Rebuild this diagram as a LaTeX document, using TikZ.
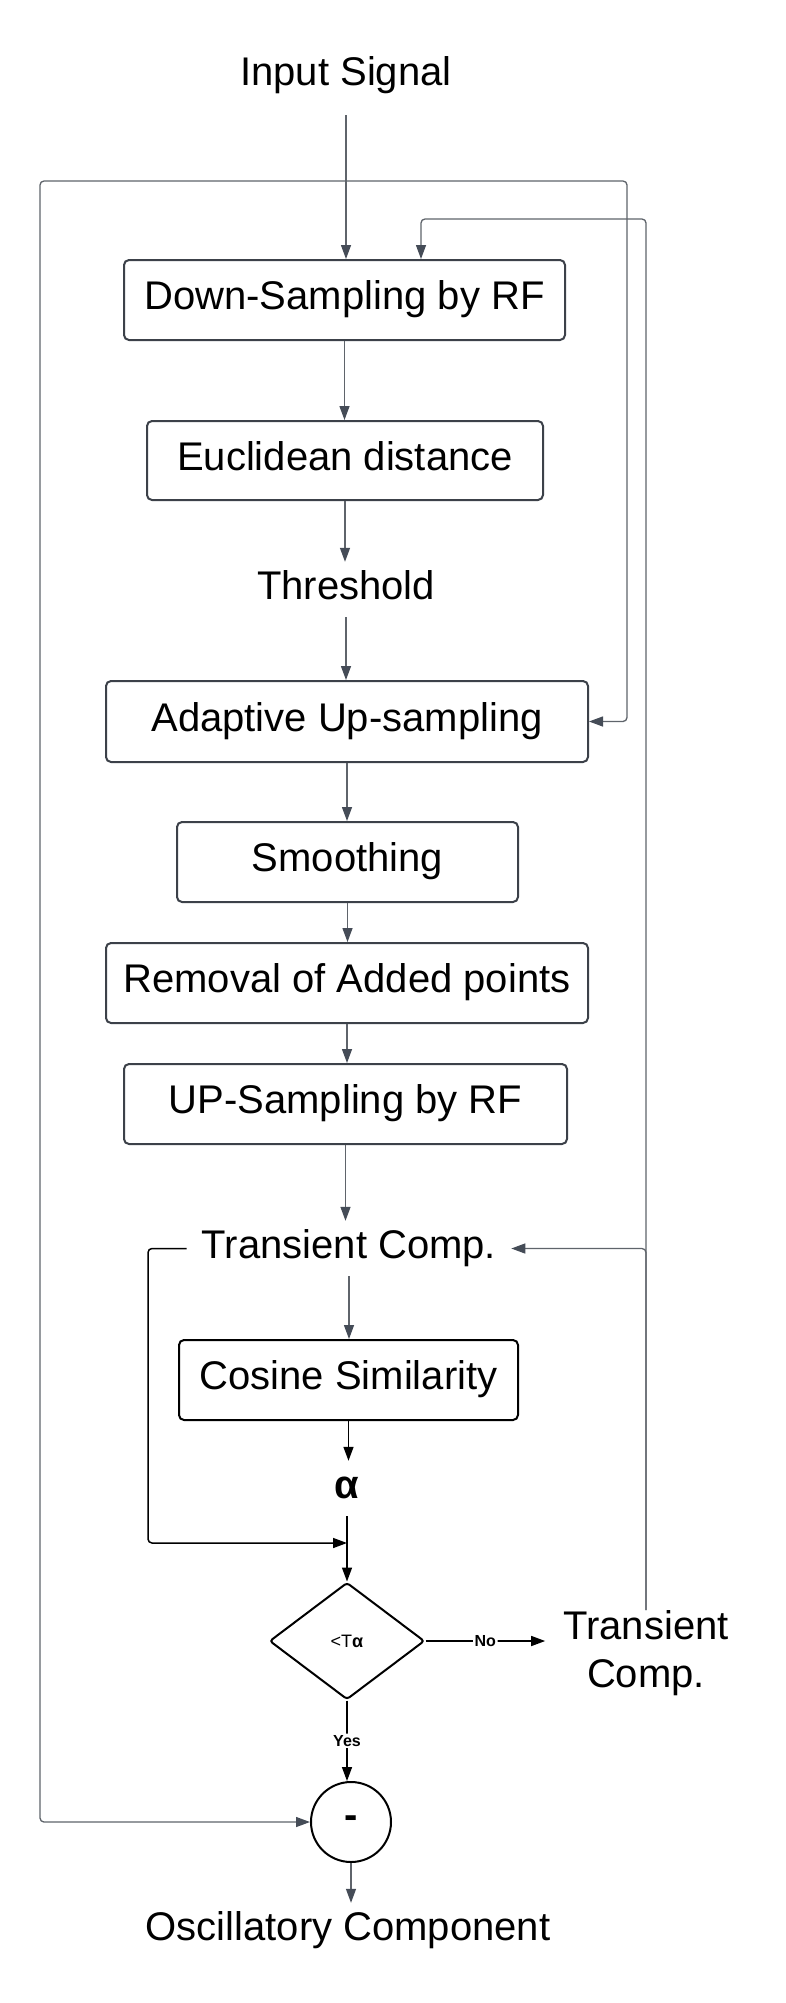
\documentclass[tikz,border=0pt]{standalone}
\usepackage{fontspec}
\setmainfont{Liberation Sans}
\usetikzlibrary{arrows.meta,shapes.geometric}
\definecolor{boxc}{HTML}{3C4149}
\definecolor{linec}{HTML}{5F646B}
\definecolor{tipc}{HTML}{454C57}
\tikzset{
  box/.style={draw=boxc, line width=2pt, rounded corners=5pt, fill=white,
    font=\fontsize{40}{48}\selectfont, text height=29pt, text depth=10pt, inner sep=0pt},
  lbl/.style={font=\fontsize{40}{48}\selectfont, text height=29pt, text depth=10pt,
    inner ysep=8pt, inner xsep=15pt},
  conn/.style={draw=linec, line width=1.3pt, rounded corners=4pt},
  arr/.style={conn, -{Triangle[length=14pt,width=10pt,color=tipc]}},
  bconn/.style={draw=black, line width=1.5pt, rounded corners=4pt},
  barr/.style={bconn, -{Triangle[length=14pt,width=10pt,color=black]}},
  edgelbl/.style={fill=white, font=\fontsize{16}{18}\selectfont\bfseries, inner sep=1.5pt}
}
\begin{document}
\begin{tikzpicture}[x=1pt,y=-1pt]
\fill[white] (0,0) rectangle (786,2003);
\useasboundingbox (0,0) rectangle (786,2003);

% nodes
\node[lbl, anchor=base] (input) at (346,85) {Input Signal};
\node[box, minimum width=441pt, minimum height=80pt] (down) at (344.5,300) {Down-Sampling by RF};
\node[box, minimum width=396pt, minimum height=79pt] (euc) at (345,460.5) {Euclidean distance};
\node[lbl, anchor=base] (thr) at (346,599) {Threshold};
\node[box, minimum width=482pt, minimum height=81pt] (adapt) at (347,721.5) {Adaptive Up-sampling};
\node[box, minimum width=341pt, minimum height=80pt] (smooth) at (347.5,862) {Smoothing};
\node[box, minimum width=482pt, minimum height=80pt] (rem) at (347,983) {Removal of Added points};
\node[box, minimum width=443pt, minimum height=80pt] (up) at (345.5,1104) {UP-Sampling by RF};
\node[lbl, anchor=base] (trM) at (349,1258) {Transient Comp.};
\node[box, draw=black, minimum width=339pt, minimum height=80pt] (cos) at (348.5,1380) {Cosine Similarity};
\node[lbl, anchor=base, font=\fontsize{40}{48}\selectfont\bfseries] (alpha) at (347,1498) {α};
\node[diamond, draw=black, line width=2pt, minimum width=155pt, minimum height=117pt,
      inner sep=0pt, rounded corners=3pt, font=\fontsize{18}{22}\selectfont] (dia) at (347,1641) {<T\textbf{α}};
\node[align=center, anchor=north, inner ysep=0pt, inner xsep=18pt,
      font=\fontsize{40}{48}\selectfont] (trR) at (646,1610) {Transient\\Comp.};
\node[circle, draw=black, line width=2pt, minimum size=80pt, inner sep=0pt,
      font=\fontsize{40}{48}\selectfont\bfseries] (minus) at (351,1822) {-};
\node[lbl, anchor=base] (osc) at (348,1940) {Oscillatory Component};

% helper coordinates
\coordinate (split) at (346,181);
\coordinate (c2) at (421,219);
\coordinate (c3) at (148,1543);

% input and outer loops
\draw[arr, shorten <=12pt] (input.south) -- (input.south |- down.north);
\draw[arr] (split) -- (40,181) |- (minus.west);
\draw[arr] (split) -- (627,181) |- (adapt.east);

% feedback from right transient
\draw[arr] (trR.north) |- (c2) -- (c2 |- down.north);
\draw[arr] (trR.north) |- (trM.east);

% main chain
\draw[arr] (down.south) -- (down.south |- euc.north);
\draw[arr] (euc.south) -- (euc.south |- thr.north);
\draw[arr] (thr.south) -- (thr.south |- adapt.north);
\draw[arr] (adapt.south) -- (adapt.south |- smooth.north);
\draw[arr] (smooth.south) -- (smooth.south |- rem.north);
\draw[arr] (rem.south) -- (rem.south |- up.north);
\draw[arr] (up.south) -- (up.south |- trM.north);
\draw[arr] (trM.south) -- (trM.south |- cos.north);
\draw[barr] (cos.south) -- (cos.south |- alpha.north);
\draw[barr] (alpha.south) -- (alpha.south |- dia.north);
\draw[barr] (trM.west) -| (c3) -- (c3 -| alpha.south);
\draw[barr] (dia.east) -- node[edgelbl] {No} (dia.east -| trR.west);
\draw[barr] (dia.south) -- node[edgelbl] {Yes} (dia.south |- minus.north);
\draw[arr] (minus.south) -- (minus.south |- osc.north);
\end{tikzpicture}
\end{document}
